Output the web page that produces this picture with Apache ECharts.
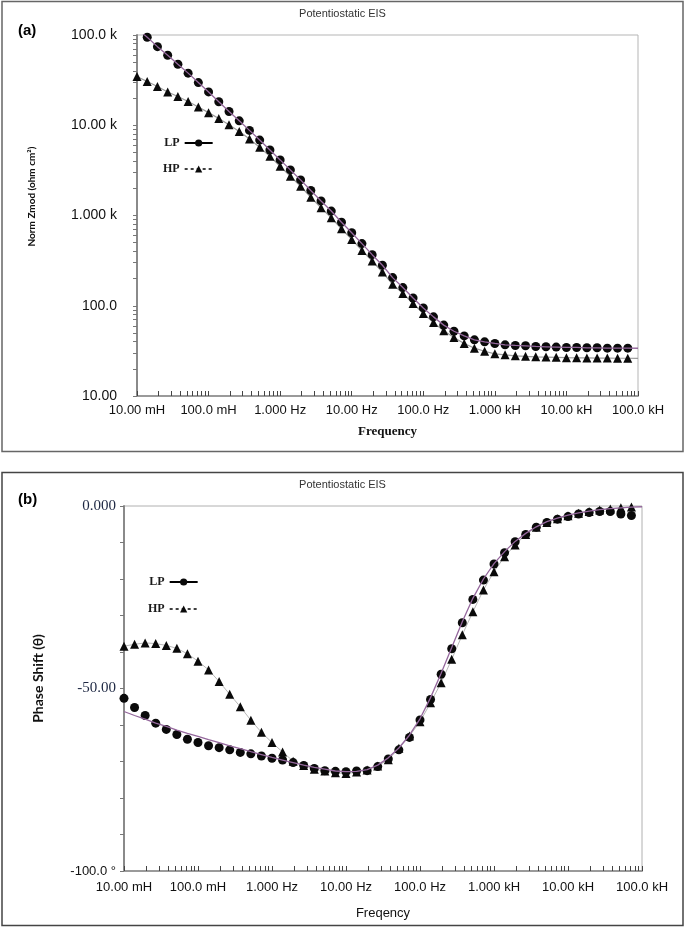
<!DOCTYPE html>
<html><head><meta charset="utf-8">
<script src="https://cdn.jsdelivr.net/npm/echarts@6/dist/echarts.min.js"></script>
<style>html,body{margin:0;padding:0;background:#fff}#c{width:685px;height:928px}</style>
</head><body><div id="c"></div>
<script>
// Frequencies (Hz), 7 points per decade
const freqs = [0.01,0.01389,0.01931,0.02683,0.03728,0.05179,0.07197,
  0.1,0.1389,0.1931,0.2683,0.3728,0.5179,0.7197,
  1,1.389,1.931,2.683,3.728,5.179,7.197,
  10,13.89,19.31,26.83,37.28,51.79,71.97,
  100,138.9,193.1,268.3,372.8,517.9,719.7,
  1000,1389,1931,2683,3728,5179,7197,
  10000,13895,19307,26827,37276,51795,71969,100000];

// (a) Norm Zmod (ohm cm2)
const lpZmod = [null,94400,74300,59700,47400,37800,29700,23400,18200,14200,11200,8770,6850,5320,4130,3200,2480,1890,1450,1120,843,644,488,368,281,205,159,122,94.6,75.3,61.0,52.2,46.3,41.9,39.8,38.2,36.9,36.3,36.0,35.4,35.1,34.8,34.5,34.5,34.2,34.2,33.9,33.9,33.9];
const hpZmod = [34600,30500,26900,23400,20800,18300,15900,13800,11900,10100,8550,7050,5690,4520,3510,2720,2110,1590,1220,944,713,543,410,313,236,173,137,106,82.0,65.2,52.7,44.6,38.2,33.9,31.3,29.3,28.6,27.9,27.5,27.2,27.0,26.8,26.6,26.5,26.4,26.3,26.3,26.2,26.2];
const lpFitZmod = [118000,94400,74300,59700,47400,37800,29700,23400,18200,14200,11200,8770,6850,5320,4130,3200,2480,1890,1450,1120,843,644,488,368,281,205,159,122,94.6,75.3,61.0,52.2,46.3,41.9,39.8,38.2,36.9,36.3,36.0,35.4,35.1,34.8,34.5,34.5,34.2,34.2,33.9,33.9,33.9,33.8];
const hpFitZmod = [34600,30500,26900,23400,20800,18300,15900,13800,11900,10100,8550,7050,5690,4520,3510,2720,2110,1590,1220,944,713,543,410,313,236,173,137,106,82.0,65.2,52.7,44.6,38.2,33.9,31.3,29.3,28.6,27.9,27.5,27.2,27.0,26.8,26.6,26.5,26.4,26.3,26.3,26.2,26.2,26.1];

// (b) Phase shift (degrees)
const lpPhase = [-52.7,-55.2,-57.4,-59.5,-61.2,-62.6,-63.9,-64.8,-65.7,-66.2,-66.8,-67.5,-67.9,-68.5,-69.1,-69.6,-70.3,-71.1,-71.9,-72.5,-72.7,-72.8,-72.6,-72.5,-71.4,-69.3,-66.8,-63.4,-58.6,-53.0,-46.1,-39.1,-32.0,-25.6,-20.3,-15.9,-12.8,-9.8,-7.8,-5.8,-4.5,-3.6,-2.9,-2.2,-1.8,-1.5,-1.5,-2.2,-2.6];
const hpPhase = [-38.4,-37.9,-37.5,-37.7,-38.2,-39.0,-40.5,-42.5,-44.9,-48.1,-51.6,-55.0,-58.7,-62.0,-64.8,-67.4,-69.9,-71.1,-72.1,-72.6,-73.1,-73.3,-72.9,-72.3,-71.2,-69.5,-66.4,-63.0,-59.1,-53.9,-48.4,-42.0,-35.3,-29.0,-23.0,-18.0,-13.9,-10.7,-7.8,-5.8,-4.5,-3.5,-2.7,-2.0,-1.5,-1.1,-0.8,-0.5,-0.3];
const lpFitPhase = [-56.3,-57.4,-58.4,-59.5,-60.4,-61.4,-62.3,-63.1,-64.0,-64.8,-65.7,-66.5,-67.3,-68.1,-68.9,-69.6,-70.3,-71.0,-71.6,-72.1,-72.6,-72.8,-72.7,-72.2,-71.0,-69.0,-66.3,-62.8,-58.3,-52.5,-45.8,-38.8,-31.7,-25.3,-20.0,-15.8,-12.5,-9.7,-7.5,-5.7,-4.3,-3.3,-2.5,-1.9,-1.4,-1.0,-0.7,-0.5,-0.3,-0.2];

// Tick labels
const xDecades = [0.01,0.1,1,10,100,1000,10000,100000];
const xTickLabels = ['10.00 mH','100.0 mH','1.000 Hz','10.00 Hz','100.0 Hz','1.000 kH','10.00 kH','100.0 kH'];
const yDecadesA = [10,100,1000,10000,100000];
const yTickLabelsA = ['10.00','100.0','1.000 k','10.00 k','100.0 k'];
const phaseTickValues = [0,-50,-100];
const phaseTickLabels = ['0.000','-50.00','-100.0 °'];

function logTicks(lo, hi){
  const out=[];
  for(let d=lo; d<hi; d++){
    for(let m=1;m<=9;m++){ out.push(+(m*Math.pow(10,d)).toPrecision(6)); }
  }
  out.push(Math.pow(10,hi));
  return out;
}
const xTicks = logTicks(-2,5);
const yTicksA = logTicks(1,5);

function pairs(arr){ return arr.map((v,i)=>[freqs[i], v]); }

const sans = 'Liberation Sans, Arial, sans-serif';
const serif = 'Liberation Serif, Times New Roman, serif';
const calib = 'Lato, Open Sans, sans-serif';

function xAxisCfg(grid, name, nameStyle, gap, margin){
  return {
    type:'log', logBase:10, gridIndex:grid, min:0.01, max:100000,
    axisLine:{show:true, onZero:false, lineStyle:{color:'#9a9a9a', width:2}},
    axisTick:{show:true, inside:true, length:5, customValues:xTicks, lineStyle:{color:'#444', width:1}},
    axisLabel:{customValues:xDecades, formatter:v=>xTickLabels[Math.round(Math.log10(v))+2],
      fontFamily:sans, fontSize:13, color:'#111', margin:margin},
    splitLine:{show:false}, minorTick:{show:false},
    name:name, nameLocation:'middle', nameGap:gap, nameTextStyle:nameStyle
  };
}

const lineBlack = {opacity:1, width:2, color:'#000', type:'solid'};
const lineDash = {opacity:1, width:1.3, color:'#000', type:[3,3]};
const legendText = {fontFamily:serif, fontWeight:'bold', fontSize:12, color:'#1a1a1a'};

const option = {
  animation:false,
  backgroundColor:'#fff',
  title:[
    {text:'Potentiostatic EIS', left:'center', top:3, textStyle:{fontFamily:sans, fontSize:11, fontWeight:'normal', color:'#333'}},
    {text:'(a)', left:13, top:18, textStyle:{fontFamily:sans, fontSize:15, fontWeight:'bold', color:'#000'}},
    {text:'Potentiostatic EIS', left:'center', top:474, textStyle:{fontFamily:sans, fontSize:11, fontWeight:'normal', color:'#333'}},
    {text:'(b)', left:13, top:487, textStyle:{fontFamily:sans, fontSize:15, fontWeight:'bold', color:'#000'}}
  ],
  graphic:[
    {type:'rect', shape:{x:2, y:1.5, width:681, height:450}, style:{fill:'none', stroke:'#666', lineWidth:1.5}, silent:true},
    {type:'rect', shape:{x:2, y:472.5, width:681, height:453}, style:{fill:'none', stroke:'#444', lineWidth:1.5}, silent:true}
  ],
  legend:[
    {left:158, top:132, orient:'vertical', align:'right', itemWidth:28, itemHeight:9, itemGap:14, selectedMode:false,
     textStyle:legendText,
     data:[{name:'LP', lineStyle:lineBlack}, {name:'HP', lineStyle:lineDash}]},
    {left:143, top:571, orient:'vertical', align:'right', itemWidth:28, itemHeight:9, itemGap:15, selectedMode:false,
     textStyle:legendText,
     data:[{name:'LP', lineStyle:lineBlack}, {name:'HP', lineStyle:lineDash}]}
  ],
  grid:[
    {left:137, top:35, width:501, height:361, show:true, borderColor:'#b5b5b5', borderWidth:1, containLabel:false},
    {left:124, top:506, width:518, height:365, show:true, borderColor:'#b0b0b0', borderWidth:1, containLabel:false}
  ],
  xAxis:[
    xAxisCfg(0,'Frequency',{fontFamily:serif, fontWeight:'bold', fontSize:13, color:'#111'},29,8),
    xAxisCfg(1,'Freqency',{fontFamily:sans, fontWeight:'normal', fontSize:13, color:'#111'},36,10)
  ],
  yAxis:[
    {type:'log', logBase:10, gridIndex:0, min:10, max:100000,
     axisLine:{show:true, onZero:false, lineStyle:{color:'#8a8a8a', width:2}},
     axisTick:{show:true, inside:false, length:4, customValues:yTicksA, lineStyle:{color:'#777'}},
     axisLabel:{customValues:yDecadesA, formatter:v=>yTickLabelsA[Math.round(Math.log10(v))-1],
       fontFamily:sans, fontSize:14, color:'#111', margin:20},
     splitLine:{show:false},
     name:'Norm Zmod (ohm cm²)', nameLocation:'middle', nameGap:100,
     nameTextStyle:{fontFamily:calib, fontWeight:'bold', fontSize:10, color:'#111', padding:[0,0,0,38]}},
    {type:'value', gridIndex:1, min:-100, max:0, interval:10,
     axisLine:{show:true, onZero:false, lineStyle:{color:'#8a8a8a', width:2}},
     axisTick:{show:true, inside:false, length:4, lineStyle:{color:'#777'}},
     axisLabel:{margin:8, formatter:v=>{
        const i = phaseTickValues.indexOf(Math.round(v));
        if(i<0) return '';
        return (i===2 ? '{s|' : '{r|') + phaseTickLabels[i] + '}';
      },
      rich:{r:{fontFamily:serif, fontSize:15, color:'#1d2742'}, s:{fontFamily:sans, fontSize:13, color:'#111'}}},
     splitLine:{show:false},
     name:'Phase Shift (θ)', nameLocation:'middle', nameGap:79,
     nameTextStyle:{fontFamily:calib, fontWeight:'bold', fontSize:14, color:'#111', padding:[0,0,0,20]}}
  ],
  series:[
    {name:'HP fit', type:'line', xAxisIndex:0, yAxisIndex:0, data:pairs(hpFitZmod), showSymbol:false, symbol:'none',
     lineStyle:{color:'#9a9a9a', width:1.2}, z:1, silent:true},
    {name:'LP', type:'line', xAxisIndex:0, yAxisIndex:0, data:pairs(lpZmod), symbol:'circle', symbolSize:9,
     itemStyle:{color:'#0a0a0a'}, lineStyle:{opacity:0}, z:2, silent:true},
    {name:'HP', type:'line', xAxisIndex:0, yAxisIndex:0, data:pairs(hpZmod), symbol:'triangle', symbolSize:9,
     itemStyle:{color:'#0a0a0a'}, lineStyle:{opacity:0}, z:2, silent:true},
    {name:'LP fit', type:'line', xAxisIndex:0, yAxisIndex:0, data:pairs(lpFitZmod), showSymbol:false, symbol:'none',
     lineStyle:{color:'#94679c', width:1.3}, z:3, silent:true},

    {name:'HP', type:'line', xAxisIndex:1, yAxisIndex:1, data:pairs(hpPhase), symbol:'triangle', symbolSize:9,
     itemStyle:{color:'#0a0a0a'}, lineStyle:{color:'#b8b8b8', width:1}, z:2, silent:true},
    {name:'LP', type:'line', xAxisIndex:1, yAxisIndex:1, data:pairs(lpPhase), symbol:'circle', symbolSize:9,
     itemStyle:{color:'#0a0a0a'}, lineStyle:{opacity:0}, z:2, silent:true},
    {name:'LP fit', type:'line', xAxisIndex:1, yAxisIndex:1, data:pairs(lpFitPhase), showSymbol:false, symbol:'none',
     lineStyle:{color:'#94679c', width:1.3}, z:3, silent:true}
  ]
};
const chart = echarts.init(document.getElementById('c'), null, {renderer:'canvas'});
chart.setOption(option);
</script>
</body></html>
